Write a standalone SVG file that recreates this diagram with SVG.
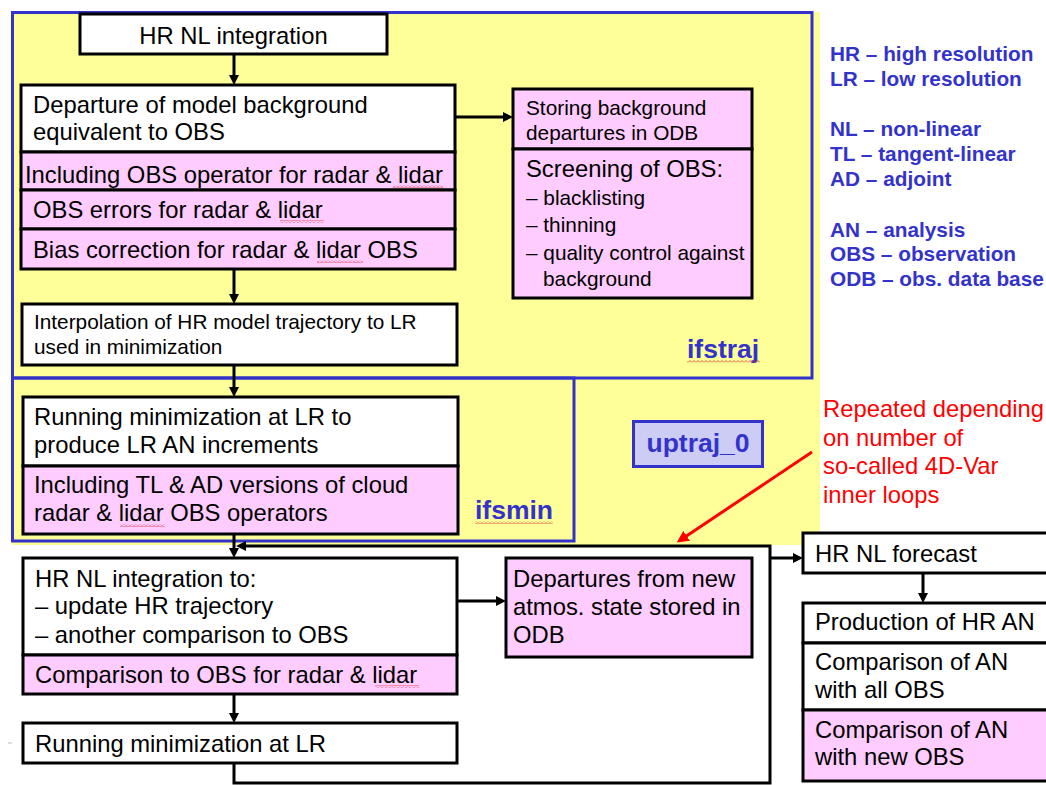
<svg xmlns="http://www.w3.org/2000/svg" width="1046" height="785" viewBox="0 0 1046 785">
<style>
.bx{stroke:#000;stroke-width:3}
.w{fill:#fff}
.p{fill:#ffccff}
.t{font-family:"Liberation Sans",Arial,sans-serif;font-size:23.8px;fill:#000}
.s{font-size:20.8px}
.leg{font-family:"Liberation Sans",Arial,sans-serif;font-weight:bold;font-size:20.8px;fill:#3333cc}
.lab{font-family:"Liberation Sans",Arial,sans-serif;font-weight:bold;font-size:26.5px;fill:#3333cc}
.red{font-family:"Liberation Sans",Arial,sans-serif;font-size:23.8px;fill:#ff0000}
.frame{fill:none;stroke:#3333cc;stroke-width:3}
.ln{fill:none;stroke:#000;stroke-width:3}
.sq{fill:url(#sq)}
</style>
<defs>
<marker id="ah" markerUnits="userSpaceOnUse" markerWidth="10" markerHeight="10" refX="2" refY="5" orient="auto"><path d="M0,0 L10,5 L0,10 z" fill="#000"/></marker>
<marker id="ahr" markerUnits="userSpaceOnUse" markerWidth="12" markerHeight="12" refX="2" refY="6" orient="auto"><path d="M0,0 L12,6 L0,12 z" fill="#ff0000"/></marker>
<pattern id="sq" width="4" height="3" patternUnits="userSpaceOnUse"><path d="M0,2.5 L2,0.5 L4,2.5" fill="none" stroke="#e03030" stroke-width="0.8"/></pattern>
</defs>
<rect x="0" y="0" width="1046" height="785" fill="#fff"/>
<rect x="12" y="12" width="808" height="533" fill="#ffff99"/>
<g id="ifstraj">
<rect class="frame" x="12.5" y="12.5" width="799.5" height="365.5"/>
<text class="lab" x="687" y="358">ifstraj</text>
<rect class="sq" x="687" y="360" width="73" height="3"/>
</g>
<g id="ifsmin">
<rect class="frame" x="12.5" y="378" width="561.5" height="163"/>
<text class="lab" x="475" y="519">ifsmin</text>
<rect class="sq" x="475" y="521" width="78" height="3"/>
</g>
<g id="uptraj">
<rect x="633.5" y="421.5" width="129" height="45" fill="#ccccf5" stroke="#3333cc" stroke-width="3"/>
<text class="lab" x="698" y="452" text-anchor="middle">uptraj_0</text>
</g>
<g id="connectors">
<path class="ln" d="M234,54 V77" marker-end="url(#ah)"/>
<path class="ln" d="M455,117 H505" marker-end="url(#ah)"/>
<path class="ln" d="M234,269 V296" marker-end="url(#ah)"/>
<path class="ln" d="M234,365 V389" marker-end="url(#ah)"/>
<path class="ln" d="M234,534 V550" marker-end="url(#ah)"/>
<path class="ln" d="M457,601 H498" marker-end="url(#ah)"/>
<path class="ln" d="M234,694 V715" marker-end="url(#ah)"/>
<path class="ln" d="M234,763 V783 H770 V546 H244" marker-end="url(#ah)"/>
<path class="ln" d="M770,558 H795" marker-end="url(#ah)"/>
<path class="ln" d="M923,573 V595" marker-end="url(#ah)"/>
<path d="M812,452 L685,537" fill="none" stroke="#ff0000" stroke-width="3" marker-end="url(#ahr)"/>
</g>
<g id="hr-nl-integration">
<rect class="bx w" x="80" y="14" width="307" height="40"/>
<text class="t" x="233.5" y="44" text-anchor="middle">HR NL integration</text>
</g>
<g id="departure">
<rect class="bx w" x="21" y="85" width="434" height="67"/>
<rect class="bx p" x="21" y="152" width="434" height="38"/>
<rect class="bx p" x="21" y="190" width="434" height="39"/>
<rect class="bx p" x="21" y="229" width="434" height="40"/>
<text class="t" x="33" y="113">Departure of model background</text>
<text class="t" x="33" y="140">equivalent to OBS</text>
<text class="t" x="25" y="183">Including OBS operator for radar &amp; lidar</text>
<text class="t" x="33" y="218">OBS errors for radar &amp; lidar</text>
<text class="t" x="33" y="258">Bias correction for radar &amp; lidar OBS</text>
<rect class="sq" x="393" y="185" width="50" height="3"/>
<rect class="sq" x="280" y="220" width="44" height="3"/>
<rect class="sq" x="317" y="260" width="46" height="3"/>
</g>
<g id="storing">
<rect class="bx p" x="513" y="89" width="239" height="60"/>
<rect class="bx p" x="513" y="149" width="239" height="149"/>
<text class="t s" x="526" y="115">Storing background</text>
<text class="t s" x="526" y="140">departures in ODB</text>
<text class="t" x="526" y="177">Screening of OBS:</text>
<text class="t s" x="526" y="205">– blacklisting</text>
<text class="t s" x="526" y="232">– thinning</text>
<text class="t s" x="526" y="260">– quality control against</text>
<text class="t s" x="543" y="286">background</text>
</g>
<g id="interpolation">
<rect class="bx w" x="22" y="304" width="435" height="61"/>
<text class="t s" x="34" y="329">Interpolation of HR model trajectory to LR</text>
<text class="t s" x="34" y="354">used in minimization</text>
</g>
<g id="running-min">
<rect class="bx w" x="23" y="397" width="435" height="69"/>
<rect class="bx p" x="23" y="466" width="435" height="68"/>
<text class="t" x="34" y="425">Running minimization at LR to</text>
<text class="t" x="34" y="453">produce LR AN increments</text>
<text class="t" x="34" y="493">Including TL &amp; AD versions of cloud</text>
<text class="t" x="34" y="521">radar &amp; lidar OBS operators</text>
<rect class="sq" x="120" y="524" width="45" height="3"/>
</g>
<g id="hr-nl-integration-to">
<rect class="bx w" x="23" y="558" width="434" height="97"/>
<rect class="bx p" x="23" y="655" width="434" height="39"/>
<text class="t" x="35" y="587">HR NL integration to:</text>
<text class="t" x="35" y="614">– update HR trajectory</text>
<text class="t" x="35" y="643">– another comparison to OBS</text>
<text class="t" x="35" y="683">Comparison to OBS for radar &amp; lidar</text>
<rect class="sq" x="375" y="685" width="44" height="3"/>
</g>
<g id="running-min-lr">
<rect class="bx w" x="23" y="723" width="434" height="40"/>
<text class="t" x="35" y="752">Running minimization at LR</text>
<line x1="8" y1="743" x2="12" y2="743" stroke="#bbb" stroke-width="1"/>
</g>
<g id="departures-new">
<rect class="bx p" x="506" y="558" width="246" height="99"/>
<text class="t" x="513" y="587">Departures from new</text>
<text class="t" x="513" y="615">atmos. state stored in</text>
<text class="t" x="513" y="643">ODB</text>
</g>
<g id="hr-nl-forecast">
<rect class="bx w" x="803" y="533" width="260" height="40"/>
<text class="t" x="815" y="562">HR NL forecast</text>
</g>
<g id="production">
<rect class="bx w" x="803" y="603" width="260" height="40"/>
<rect class="bx w" x="803" y="643" width="260" height="67"/>
<rect class="bx p" x="803" y="710" width="260" height="71"/>
<text class="t" x="815" y="630">Production of HR AN</text>
<text class="t" x="815" y="670">Comparison of AN</text>
<text class="t" x="815" y="698">with all OBS</text>
<text class="t" x="815" y="738">Comparison of AN</text>
<text class="t" x="815" y="765">with new OBS</text>
</g>
<g id="legend">
<text class="leg" x="830" y="61">HR – high resolution</text>
<text class="leg" x="830" y="86">LR – low resolution</text>
<text class="leg" x="830" y="136">NL – non-linear</text>
<text class="leg" x="830" y="161">TL – tangent-linear</text>
<text class="leg" x="830" y="186">AD – adjoint</text>
<text class="leg" x="830" y="237">AN – analysis</text>
<text class="leg" x="830" y="261">OBS – observation</text>
<text class="leg" x="830" y="286">ODB – obs. data base</text>
</g>
<g id="note">
<text class="red" x="823" y="417">Repeated depending</text>
<text class="red" x="823" y="446">on number of</text>
<text class="red" x="823" y="474">so-called 4D-Var</text>
<text class="red" x="823" y="503">inner loops</text>
</g>
</svg>
